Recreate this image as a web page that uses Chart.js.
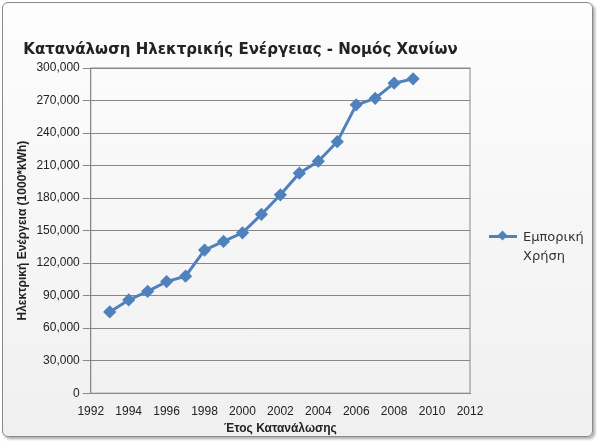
<!DOCTYPE html>
<html><head><meta charset="utf-8">
<script src="https://cdn.jsdelivr.net/npm/chart.js@4"></script>
<style>
body{margin:0;background:#fff;font-family:"DejaVu Sans",sans-serif}
#box{position:absolute;left:2px;top:2px;width:589px;height:433px;border:1px solid #8a8a8a;border-radius:6px;background:linear-gradient(#fdfdfd,#f0f0f0);box-shadow:2px 2px 3px #aaa}
#c{position:absolute;left:0;top:0}
#leg{position:absolute;left:486px;top:224px;font-size:13px;color:#333;line-height:19px}
#leg .ln{position:absolute;left:0;top:8px;width:28px;height:3px;background:#4f81bd}
#leg .mk{position:absolute;left:10px;top:5px;width:7px;height:7px;background:#4f81bd;transform:rotate(45deg)}
#leg .tx{margin-left:34px}
</style></head><body>
<div id="box"><canvas id="c" width="589" height="433"></canvas>
<div id="leg"><div class="ln"></div><div class="mk"></div><div class="tx">Εμπορική<br>Χρήση</div></div></div>
<script>
const years = [1993,1994,1995,1996,1997,1998,1999,2000,2001,2002,2003,2004,2005,2006,2007,2008,2009];
const usage = [75000,86000,94000,103000,108000,132000,140000,148000,165000,183000,203000,214000,232000,266000,272000,286000,290000];

// frame around plot area
const frame = {
   id: 'frame',
   beforeDatasetsDraw(c) {
      const a = c.chartArea, g = c.ctx;
      g.save(); g.strokeStyle = '#888'; g.lineWidth = 1;
      g.strokeRect(a.left, a.top, a.right - a.left, a.bottom - a.top);
      g.restore();
   }
};

const ctx = document.getElementById('c').getContext('2d');
const chart = new Chart(ctx, {
   type: 'line',
   data: {
      datasets: [{
         label: 'Εμπορική Χρήση',
         data: years.map((y, i) => ({x: y, y: usage[i]})),
         borderColor: '#4f81bd',
         backgroundColor: '#4f81bd',
         borderWidth: 3,
         pointStyle: 'rectRot',
         pointRadius: 4.5,
         tension: 0
      }]
   },
   options: {
      responsive: false,
      animation: false,
      layout: {padding: {left: 8, right: 122, top: 4, bottom: 0}},
      plugins: {
         legend: {display: false},
         title: {display: true, text: 'Κατανάλωση Ηλεκτρικής Ενέργειας - Νομός Χανίων',
            font: {size: 15, weight: 'bold', family: 'DejaVu Sans'}, color: '#222', padding: {top: 34, bottom: 9}}
      },
      scales: {
         x: {type: 'linear', min: 1992, max: 2012,
            ticks: {stepSize: 2, color: '#222', font: {size: 12}, callback: v => String(v)},
            grid: {display: false}, border: {color: '#888'},
            title: {display: true, text: 'Έτος Κατανάλωσης', font: {size: 12, weight: 'bold'}, color: '#222', padding: 0}},
         y: {min: 0, max: 300000,
            ticks: {stepSize: 30000, color: '#222', font: {size: 12}, callback: v => v.toLocaleString('en-US')},
            grid: {color: '#888'}, border: {color: '#888'},
            title: {display: true, text: 'Ηλεκτρική Ενέργεια (1000*kWh)', font: {size: 12, weight: 'bold'}, color: '#222'}}
      }
   },
   plugins: [frame]
});
</script></body></html>
